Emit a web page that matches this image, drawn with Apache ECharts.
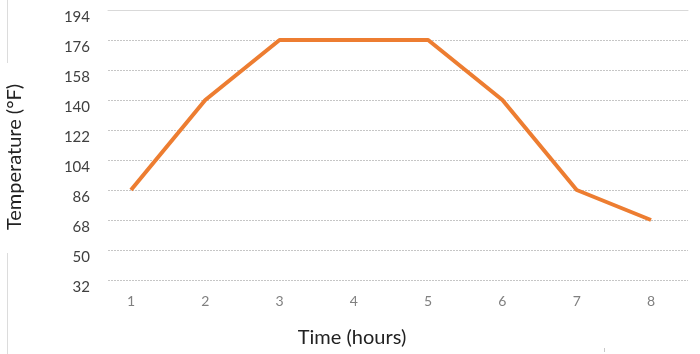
<!DOCTYPE html>
<html>
<head>
<meta charset="utf-8">
<script src="https://cdn.jsdelivr.net/npm/echarts@6/dist/echarts.min.js"></script>
<style>html,body{margin:0;padding:0;background:#fff;}#c{width:700px;height:354px;}</style>
</head>
<body>
<div id="c"></div>
<script>
const hours = ['1', '2', '3', '4', '5', '6', '7', '8'];
const temperatures = [86, 140, 176, 176, 176, 140, 86, 68];
const yTicks = [32, 50, 68, 86, 104, 122, 140, 158, 176, 194];
const xTitle = 'Time (hours)';
const yTitle = 'Temperature (°F)';

const chart = echarts.init(document.getElementById('c'));
const font = 'Lato, "Open Sans", sans-serif';
const yMin = yTicks[0], yMax = yTicks[yTicks.length - 1];
chart.setOption({
  animation: false,
  backgroundColor: '#fff',
  grid: [
    { left: 108, right: 12, top: 10, bottom: 74 },
    { left: 131, right: 49, top: 10, bottom: 74 }
  ],
  xAxis: [{
    gridIndex: 0, type: 'value', min: 0, max: 1, position: 'top',
    axisLine: { show: true, lineStyle: { color: '#d9d9d9', width: 1 } },
    axisTick: { show: false }, axisLabel: { show: false }, splitLine: { show: false }
  }, {
    gridIndex: 1, type: 'category', data: hours, boundaryGap: false,
    axisLine: { show: false }, axisTick: { show: false }, splitLine: { show: false },
    axisLabel: { color: '#808080', fontFamily: font, fontSize: 14, margin: 14 }
  }],
  yAxis: [{
    gridIndex: 0, type: 'value', min: yMin, max: yMax, interval: 18,
    axisLine: { show: false }, axisTick: { show: false },
    splitLine: { lineStyle: { color: '#c6c6c6', type: [2, 1], width: 1 } },
    axisLabel: { color: '#404040', fontFamily: font, fontSize: 15, margin: 18, verticalAlign: 'top' }
  }, {
    gridIndex: 1, type: 'value', min: yMin, max: yMax, interval: 18,
    axisLine: { show: false }, axisTick: { show: false },
    splitLine: { show: false }, axisLabel: { show: false }
  }],
  graphic: [
    { type: 'line', shape: { x1: 7.5, y1: 0, x2: 7.5, y2: 63 }, style: { stroke: '#dcdcdc', lineWidth: 1 } },
    { type: 'line', shape: { x1: 7.5, y1: 253, x2: 7.5, y2: 354 }, style: { stroke: '#dcdcdc', lineWidth: 1 } },
    { type: 'line', shape: { x1: 604.5, y1: 348, x2: 604.5, y2: 352 }, style: { stroke: '#c8c8c8', lineWidth: 1 } },
    { type: 'text', x: 352, y: 338, style: { text: xTitle, fill: '#222', font: '20px ' + font, align: 'center', verticalAlign: 'middle' } },
    { type: 'text', x: 15, y: 157, rotation: Math.PI / 2, style: { text: yTitle, fill: '#222', font: '20px ' + font, align: 'center', verticalAlign: 'middle' } }
  ],
  series: [{
    type: 'line', xAxisIndex: 1, yAxisIndex: 1,
    data: temperatures,
    showSymbol: false,
    lineStyle: { color: '#ED7D31', width: 4 },
    itemStyle: { color: '#ED7D31' }
  }]
});
</script>
</body>
</html>
